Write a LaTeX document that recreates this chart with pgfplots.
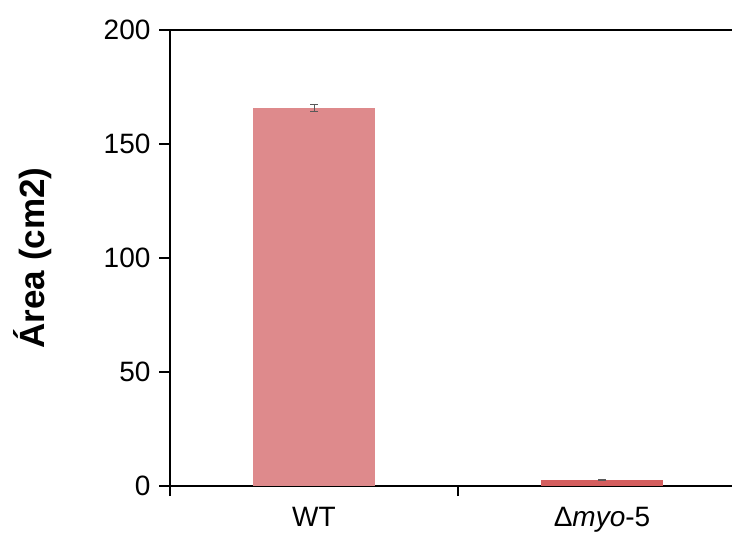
\documentclass[border=0pt]{standalone}
\usepackage{pgfplots}
\pgfplotsset{compat=1.18}
\usepackage{fontspec}
\setmainfont{Liberation Sans}
\definecolor{barA}{HTML}{DE8A8C}
\definecolor{barB}{HTML}{D45E5E}
\begin{document}
\begin{tikzpicture}
\begin{axis}[
  name=ax,
  scale only axis,
  width=562pt, height=456pt,
  xmin=0, xmax=1.9514,
  ymin=0, ymax=200,
  axis lines*=left,
  axis line style={line width=1.4pt, black},
  clip=false,
  ytick={0,50,100,150,200},
  xtick={0,1},
  xticklabels={WT, Δ\textit{myo}-5},
  xticklabel style={xshift=144pt, yshift=-8pt},
  tick align=outside,
  ytick pos=left,
  xtick pos=bottom,
  major tick length=10pt,
  tick style={line width=1.4pt, black},
  ticklabel style={font=\fontsize{28}{33}\selectfont},
  /pgf/number format/assume math mode=true,
  yticklabel style={xshift=-6pt},
  ylabel={\bfseries Área (cm2)},
  ylabel style={font=\fontsize{35}{40}\selectfont, at={(axis description cs:-0.245,0.5)}, anchor=center},
  bar width=0.427,
  enlargelimits=false,
]
\addplot[ybar, bar shift=0pt, fill=barA, draw=none, error bars/.cd, y dir=both, y explicit, error bar style={line width=1pt, color=gray!70!black}, error mark options={rotate=90, mark size=4pt, line width=1pt, gray!70!black}]
  coordinates {(0.5,165.8) +- (0,1.6)};
\addplot[ybar, bar shift=0pt, fill=barB, draw=none, error bars/.cd, y dir=both, y explicit, error bar style={line width=1pt, color=gray!70!black}, error mark options={rotate=90, mark size=4pt, line width=1pt, gray!70!black}]
  coordinates {(1.5,2.6) +- (0,0.3)};
\draw[line width=1.4pt, black] (rel axis cs:0,1) -- (rel axis cs:1,1);
\pgfplotsinvokeforeach{0,50,100,150,200}{
  \draw[line width=1.4pt, black] (axis cs:0,#1) -- ++(-11pt,0);
}
\end{axis}
\pgfresetboundingbox
\path[use as bounding box] ([xshift=-170pt,yshift=-49pt]ax.south west) rectangle ([yshift=30pt]ax.north east);
\end{tikzpicture}
\end{document}
